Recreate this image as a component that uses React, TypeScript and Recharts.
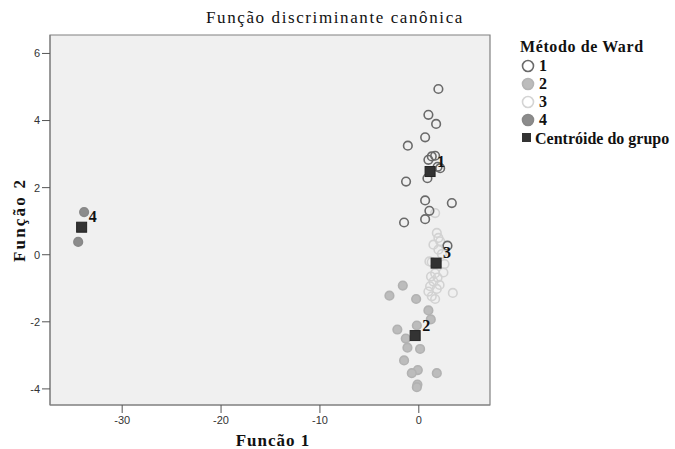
import { Label, ReferenceArea, Scatter, ScatterChart, XAxis, YAxis } from "recharts";

// Método de Ward groups
const ward1 = [
  { x: 1.98, y: 4.94 }, { x: 0.97, y: 4.17 }, { x: 1.75, y: 3.9 }, { x: 0.64, y: 3.5 },
  { x: -1.11, y: 3.25 }, { x: 1.31, y: 2.93 }, { x: 1.65, y: 2.95 }, { x: 0.97, y: 2.83 },
  { x: 2.16, y: 2.58 }, { x: 1.9, y: 2.62 }, { x: 0.87, y: 2.28 }, { x: -1.29, y: 2.18 },
  { x: 0.64, y: 1.62 }, { x: 3.34, y: 1.54 }, { x: 1.07, y: 1.31 }, { x: 0.64, y: 1.06 },
  { x: -1.49, y: 0.96 }, { x: 2.9, y: 0.27 },
];

const ward2 = [
  { x: -1.62, y: -0.92 }, { x: -2.97, y: -1.22 }, { x: -0.27, y: -1.32 }, { x: 0.97, y: -1.66 },
  { x: 1.21, y: -1.93 }, { x: -0.2, y: -2.11 }, { x: -2.17, y: -2.23 }, { x: -1.32, y: -2.5 },
  { x: -1.15, y: -2.77 }, { x: 0.13, y: -2.81 }, { x: -1.49, y: -3.15 }, { x: -0.1, y: -3.44 },
  { x: -0.71, y: -3.53 }, { x: 1.82, y: -3.53 }, { x: -0.14, y: -3.87 }, { x: -0.2, y: -3.95 },
];

const ward3 = [
  { x: 1.65, y: 1.24 }, { x: 1.82, y: 0.65 }, { x: 1.98, y: 0.5 }, { x: 2.16, y: 0.4 },
  { x: 1.48, y: 0.3 }, { x: 1.98, y: 0.15 }, { x: 2.33, y: 0.02 }, { x: 1.07, y: -0.2 },
  { x: 2.6, y: -0.28 }, { x: 1.3, y: -0.22 }, { x: 2.49, y: -0.53 }, { x: 1.65, y: -0.55 },
  { x: 1.23, y: -0.65 }, { x: 1.9, y: -0.68 }, { x: 1.48, y: -0.8 }, { x: 1.14, y: -0.94 },
  { x: 1.82, y: -1.02 }, { x: 0.97, y: -1.1 }, { x: 3.44, y: -1.14 }, { x: 1.31, y: -1.24 },
  { x: 1.65, y: -1.32 }, { x: 2.1, y: -0.9 },
];

const ward4 = [
  { x: -33.85, y: 1.27 },
  { x: -34.45, y: 0.38 },
];

const centroids = [
  { x: 1.14, y: 2.48, label: "1" },
  { x: -0.37, y: -2.41, label: "2" },
  { x: 1.75, y: -0.25, label: "3" },
  { x: -34.1, y: 0.82, label: "4" },
];

const xTicks = [-30, -20, -10, 0];
const yTicks = [-4, -2, 0, 2, 4, 6];
const xDomain = [-37.3, 7.2];
const yDomain = [-4.48, 6.55];

const SERIF = "'Liberation Serif', 'DejaVu Serif', serif";
const SANS = "'Liberation Sans', Arial, sans-serif";

const dot = (fill: string, stroke: string) => (props: any) => (
  <circle cx={props.cx} cy={props.cy} r={4.3} fill={fill} stroke={stroke} strokeWidth={1.6} />
);

const centroidShape = (props: any) => (
  <g>
    <rect x={props.cx - 5} y={props.cy - 5} width={10} height={10} fill="#333" stroke="#222" />
    <text
      x={props.cx + 7}
      y={props.cy - 5}
      fontFamily={SERIF}
      fontWeight="bold"
      fontSize={16}
      fill="#111"
    >
      {props.payload.label}
    </text>
  </g>
);

const legendItems = [
  { name: "1", fill: "none", stroke: "#6a6a6a" },
  { name: "2", fill: "#bcbcbc", stroke: "#b4b4b4" },
  { name: "3", fill: "none", stroke: "#d4d4d4" },
  { name: "4", fill: "#8c8c8c", stroke: "#888" },
];

function WardLegend() {
  return (
    <div
      style={{
        position: "absolute",
        top: 38,
        left: 520,
        fontFamily: SERIF,
        fontWeight: "bold",
        fontSize: 16,
        color: "#111",
        lineHeight: "18px",
      }}
    >
      <div style={{ marginBottom: 1, letterSpacing: 0.6 }}>Método de Ward</div>
      {legendItems.map((it) => (
        <div key={it.name} style={{ display: "flex", alignItems: "center" }}>
          <svg width={19} height={18}>
            <circle cx={8} cy={9} r={5.5} fill={it.fill} stroke={it.stroke} strokeWidth={1.6} />
          </svg>
          <span>{it.name}</span>
        </div>
      ))}
      <div style={{ display: "flex", alignItems: "center", marginTop: 1 }}>
        <svg width={15} height={18}>
          <rect x={2} y={3} width={9} height={9} fill="#333" />
        </svg>
        <span>Centróide do grupo</span>
      </div>
    </div>
  );
}

export default function App() {
  return (
    <div style={{ position: "absolute", left: 0, top: 0, width: 675, height: 449, background: "#fff" }}>
      <div
        style={{
          position: "absolute",
          top: 8,
          left: 0,
          width: 670,
          textAlign: "center",
          fontFamily: SERIF,
          fontSize: 17,
          letterSpacing: 1.6,
          color: "#111",
        }}
      >
        Função discriminante canônica
      </div>
      <WardLegend />
      <ScatterChart width={675} height={449} margin={{ top: 35, right: 185, bottom: 0, left: 10 }}>
        <XAxis
          type="number"
          dataKey="x"
          domain={xDomain}
          ticks={xTicks}
          allowDataOverflow
          height={44}
          tickSize={8}
          tickMargin={3}
          tick={{ fontFamily: SANS, fontSize: 11, fill: "#333" }}
          tickLine={{ stroke: "#555" }}
          axisLine={{ stroke: "#808080" }}
        >
          <Label
            content={(p: any) => (
              <text
                x={p.viewBox.x + p.viewBox.width / 2 + 3}
                y={p.viewBox.y + p.viewBox.height - 3}
                textAnchor="middle"
                fontFamily={SERIF}
                fontWeight="bold"
                fontSize={17}
                letterSpacing={1}
                fill="#111"
              >
                Funcão 1
              </text>
            )}
          />
        </XAxis>
        <YAxis
          type="number"
          dataKey="y"
          domain={yDomain}
          ticks={yTicks}
          allowDataOverflow
          width={40}
          tickSize={8}
          tickMargin={2}
          tick={{ fontFamily: SANS, fontSize: 11, fill: "#333" }}
          tickLine={{ stroke: "#555" }}
          axisLine={{ stroke: "#808080" }}
        >
          <Label
            content={(p: any) => {
              const cx = 19;
              const cy = p.viewBox.y + p.viewBox.height / 2;
              return (
                <text
                  x={cx}
                  y={cy}
                  transform={`rotate(-90 ${cx} ${cy})`}
                  textAnchor="middle"
                  dominantBaseline="central"
                  fontFamily={SERIF}
                  fontWeight="bold"
                  fontSize={17}
                  letterSpacing={2.2}
                  fill="#111"
                >
                  Função 2
                </text>
              );
            }}
          />
        </YAxis>
        <ReferenceArea
          x1={xDomain[0]}
          x2={xDomain[1]}
          y1={yDomain[0]}
          y2={yDomain[1]}
          fill="#f0f0f0"
          fillOpacity={1}
          stroke="#808080"
          strokeWidth={1.2}
        />
        <Scatter name="3" data={ward3} shape={dot("none", "#d2d2d2")} isAnimationActive={false} />
        <Scatter name="2" data={ward2} shape={dot("#bcbcbc", "#b2b2b2")} isAnimationActive={false} />
        <Scatter name="1" data={ward1} shape={dot("none", "#6a6a6a")} isAnimationActive={false} />
        <Scatter name="4" data={ward4} shape={dot("#8c8c8c", "#888")} isAnimationActive={false} />
        <Scatter name="Centróide do grupo" data={centroids} shape={centroidShape} isAnimationActive={false} />
      </ScatterChart>
    </div>
  );
}
